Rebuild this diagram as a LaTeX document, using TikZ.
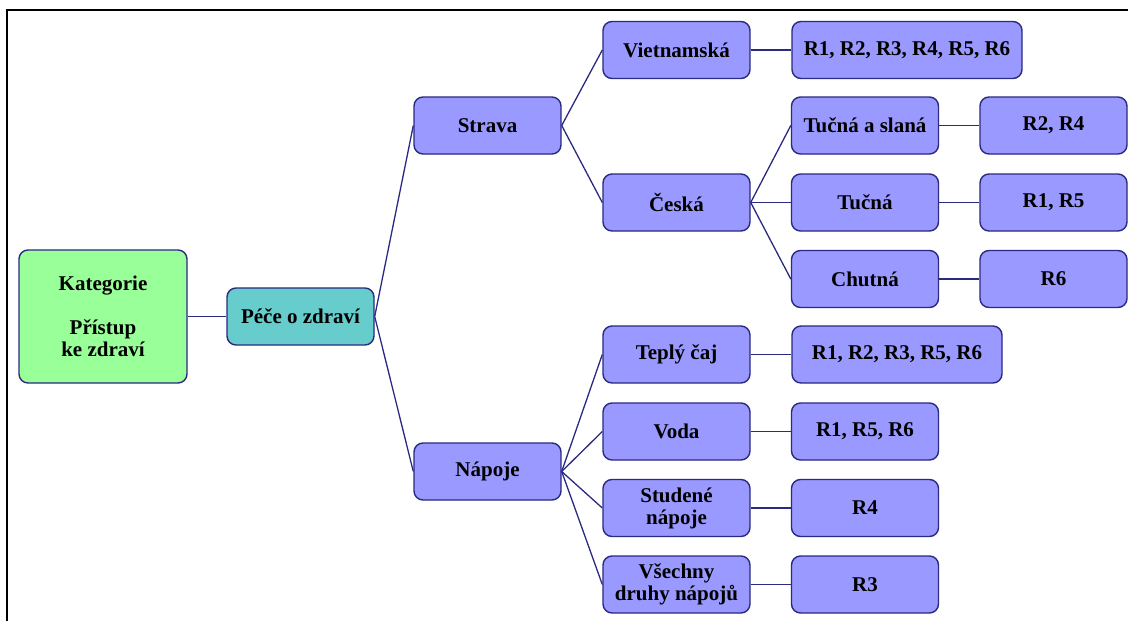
\documentclass[tikz,border=0pt]{standalone}
\usepackage{fontspec}
\setmainfont{Liberation Serif}
\definecolor{boxfill}{HTML}{9999FF}
\definecolor{rootfill}{HTML}{99FF99}
\definecolor{midfill}{HTML}{66CCCC}
\definecolor{edge}{HTML}{2A2A80}
\begin{document}
\begin{tikzpicture}[x=1pt,y=-1pt,
  box/.style={draw=edge, line width=1.4pt, fill=boxfill, rounded corners=9pt,
    minimum width=147pt, minimum height=57pt, inner sep=0pt, align=center,
    font=\fontsize{21}{22}\selectfont\bfseries},
  link/.style={draw=edge, line width=1.3pt}]
\useasboundingbox (0,0) rectangle (1128,621);
% frame
\draw[line width=2.7pt, line cap=rect] (7,621) -- (7,10) -- (1128,10);

% nodes
\node[box, fill=rootfill, minimum width=168pt, minimum height=133pt] (kat) at (103,316.5)
  {Kategorie\\[22pt]Přístup\\ke zdraví};
\node[box, fill=midfill] (pece) at (300.5,316.5) {Péče o zdraví};
\node[box] (strava) at (487.5,125.5) {Strava};
\node[box] (napoje) at (487.5,471.5) {Nápoje};
\node[box] (viet) at (676.5,50) {Vietnamská};
\node[box] (ceska) at (676.5,202.5) {Česká};
\node[box, minimum width=230pt] (rviet) at (907,50) {R1, R2, R3, R4, R5, R6};
\node[box] (tas) at (865,125.5) {Tučná a slaná};
\node[box] (rtas) at (1053.5,125.5) {R2, R4};
\node[box] (tucna) at (865,202.5) {Tučná};
\node[box] (rtucna) at (1053.5,202.5) {R1, R5};
\node[box] (chutna) at (865,279) {Chutná};
\node[box] (rchutna) at (1053.5,279) {R6};
\node[box] (teply) at (676.5,354.5) {Teplý čaj};
\node[box, minimum width=210pt] (rteply) at (897,354.5) {R1, R2, R3, R5, R6};
\node[box] (voda) at (676.5,431.5) {Voda};
\node[box] (rvoda) at (865,431.5) {R1, R5, R6};
\node[box] (studene) at (676.5,508) {Studené\\nápoje};
\node[box] (rstudene) at (865,508) {R4};
\node[box] (vsechny) at (676.5,584.5) {Všechny\\druhy nápojů};
\node[box] (rvsechny) at (865,584.5) {R3};

% connectors
\draw[link] (kat.east) -- (pece.west);
\draw[link] (pece.east) -- (strava.west);
\draw[link] (pece.east) -- (napoje.west);
\draw[link] (strava.east) -- (viet.west);
\draw[link] (strava.east) -- (ceska.west);
\draw[link] (viet.east) -- (rviet.west);
\draw[link] (ceska.east) -- (tas.west);
\draw[link] (ceska.east) -- (tucna.west);
\draw[link] (ceska.east) -- (chutna.west);
\draw[link] (tas.east) -- (rtas.west);
\draw[link] (tucna.east) -- (rtucna.west);
\draw[link] (chutna.east) -- (rchutna.west);
\draw[link] (napoje.east) -- (teply.west);
\draw[link] (napoje.east) -- (voda.west);
\draw[link] (napoje.east) -- (studene.west);
\draw[link] (napoje.east) -- (vsechny.west);
\draw[link] (teply.east) -- (rteply.west);
\draw[link] (voda.east) -- (rvoda.west);
\draw[link] (studene.east) -- (rstudene.west);
\draw[link] (vsechny.east) -- (rvsechny.west);
\end{tikzpicture}
\end{document}
